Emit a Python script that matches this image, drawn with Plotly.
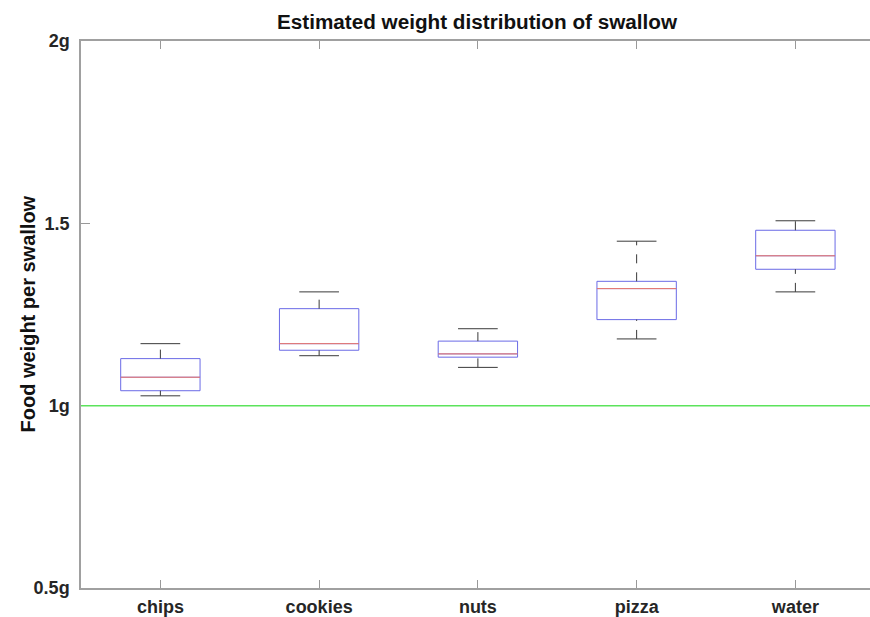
import plotly.graph_objects as go

categories = ["chips", "cookies", "nuts", "pizza", "water"]
lower_whisker = [1.027, 1.137, 1.105, 1.183, 1.312]
q1 = [1.041, 1.152, 1.133, 1.236, 1.374]
median = [1.078, 1.170, 1.142, 1.321, 1.411]
q3 = [1.129, 1.266, 1.177, 1.341, 1.481]
upper_whisker = [1.170, 1.312, 1.211, 1.451, 1.507]
reference_weight = 1.0
y_tick_vals = [0.5, 1.0, 1.5, 2.0]
y_tick_text = ["0.5g", "1g", "1.5", "2g"]

positions = list(range(1, len(categories) + 1))
box_w = 0.5
cap_w = 0.25
FONT = "Liberation Sans"

W, H = 870, 617
L, R, T, B = 81, 0, 41, 29

fig = go.Figure()

fig.add_trace(go.Box(
    x=positions, q1=q1, median=median, q3=q3,
    lowerfence=q1, upperfence=q3,
    width=box_w, whiskerwidth=0, boxpoints=False,
    line=dict(color="#6a6ae6", width=1),
    fillcolor="rgba(0,0,0,0)", showlegend=False, hoverinfo="skip",
))

# whiskers (dashed)
wx, wy = [], []
for p, lw, a, b, uw in zip(positions, lower_whisker, q1, q3, upper_whisker):
    wx += [p, p, None, p, p, None]
    wy += [lw, a, None, b, uw, None]
fig.add_trace(go.Scatter(x=wx, y=wy, mode="lines",
                         line=dict(color="#3a3a3a", width=1, dash="dash"),
                         showlegend=False, hoverinfo="skip"))

# caps
cx, cy = [], []
for p, lw, uw in zip(positions, lower_whisker, upper_whisker):
    cx += [p - cap_w / 2, p + cap_w / 2, None, p - cap_w / 2, p + cap_w / 2, None]
    cy += [lw, lw, None, uw, uw, None]
fig.add_trace(go.Scatter(x=cx, y=cy, mode="lines",
                         line=dict(color="#3a3a3a", width=1),
                         showlegend=False, hoverinfo="skip"))

# medians
mx, my = [], []
for p, m in zip(positions, median):
    mx += [p - box_w / 2, p + box_w / 2, None]
    my += [m, m, None]
fig.add_trace(go.Scatter(x=mx, y=my, mode="lines",
                         line=dict(color="#f07a68", width=1),
                         showlegend=False, hoverinfo="skip"))

fig.add_shape(type="line", xref="paper", x0=0, x1=1, yref="y",
              y0=reference_weight, y1=reference_weight,
              line=dict(color="#5ce35c", width=1.5), layer="above")

plot_w = W - L - R
fig.add_annotation(text="<b>Food weight per swallow</b>", textangle=-90,
                   xref="paper", yref="paper", x=(27 - L) / plot_w, y=0.5,
                   xanchor="center", yanchor="middle", showarrow=False,
                   font=dict(family=FONT, size=20, color="#111111"))

fig.update_layout(
    width=W, height=H,
    margin=dict(l=L, r=R, t=T, b=B, autoexpand=False),
    paper_bgcolor="white", plot_bgcolor="white",
    title=dict(text="<b>Estimated weight distribution of swallow</b>",
               x=477 / W, xanchor="center", y=1 - 22 / H, yanchor="middle",
               xref="container", yref="container",
               font=dict(family=FONT, size=20.7, color="#111111")),
    font=dict(family=FONT),
    xaxis=dict(
        range=[0.5, 5.47], tickmode="array", tickvals=positions,
        ticktext=[f"<b>{c}</b>" for c in categories],
        ticks="inside", ticklen=8, tickcolor="#999999",
        showline=True, linecolor="#a0a0a0", linewidth=1.5, mirror="ticks",
        showgrid=False, zeroline=False, ticklabelstandoff=2,
        tickfont=dict(family=FONT, size=18, color="#262626"),
    ),
    yaxis=dict(
        range=[0.5, 2.0], tickmode="array", tickvals=y_tick_vals,
        ticktext=[f"<b>{t}</b>" for t in y_tick_text],
        ticks="inside", ticklen=9, tickcolor="#999999",
        showline=True, linecolor="#a0a0a0", linewidth=1.5, mirror=False,
        showgrid=False, zeroline=False, ticklabelstandoff=6,
        tickfont=dict(family=FONT, size=18, color="#262626"),
    ),
)

fig.write_html("out.html",
               config={"displayModeBar": False},
               post_script="document.body.style.margin='0';"
                           "document.body.style.overflow='hidden';")
